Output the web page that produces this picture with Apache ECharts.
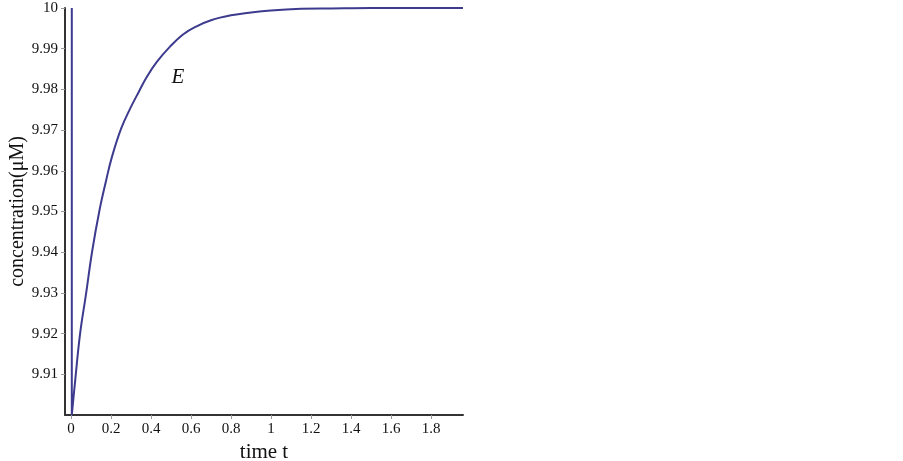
<!DOCTYPE html>
<html>
<head>
<meta charset="utf-8">
<script src="https://cdn.jsdelivr.net/npm/echarts@6/dist/echarts.min.js"></script>
<style>
    html, body { margin: 0; padding: 0; background: #fff; }
    #main { width: 903px; height: 461px; }
</style>
</head>
<body>
<div id="main"></div>
<script>
// values
var timeT = [0.004, 0.004, 0.02, 0.045, 0.075, 0.106, 0.142, 0.175, 0.204, 0.25, 0.295, 0.34, 0.378, 0.43, 0.495, 0.56, 0.628, 0.7, 0.8, 0.9, 1.0, 1.15, 1.3, 1.5, 1.7, 1.96];
var concE = [10, 9.9, 9.908, 9.9198, 9.9297, 9.9403, 9.9502, 9.9575, 9.9633, 9.9703, 9.9752, 9.9795, 9.983, 9.9868, 9.9905, 9.9935, 9.9955, 9.997, 9.9982, 9.9989, 9.9994, 9.9998, 9.9999, 10, 10, 10];
var xTicks = [0, 0.2, 0.4, 0.6, 0.8, 1, 1.2, 1.4, 1.6, 1.8];
var yTicks = [9.91, 9.92, 9.93, 9.94, 9.95, 9.96, 9.97, 9.98, 9.99, 10];

;(function(){
    var serif = '"Liberation Serif", "DejaVu Serif", serif';
    var points = timeT.map(function(t, i){ return [t, concE[i]]; });

    var option = {
        animation: false,
        grid: { left: 65, right: 440, top: 8, bottom: 46, outerBoundsMode: 'none', containLabel: false },
        xAxis: {
            type: 'value',
            min: -0.03,
            max: 1.96,
            name: 'time t',
            nameLocation: 'middle',
            nameGap: 25,
            nameTextStyle: { fontFamily: serif, fontSize: 21, color: '#111' },
            axisLine: { onZero: false, lineStyle: { color: '#333', width: 2 } },
            axisTick: { show: true, length: 4, customValues: xTicks, lineStyle: { color: '#999' } },
            axisLabel: {
                customValues: xTicks,
                fontFamily: serif, fontSize: 15, color: '#111', margin: 7,
                formatter: function(v){ return String(Math.round(v * 10) / 10); }
            },
            splitLine: { show: false }
        },
        yAxis: {
            type: 'value',
            min: 9.9,
            max: 10,
            name: 'concentration(μM)',
            nameLocation: 'middle',
            nameGap: 31,
            nameTextStyle: { fontFamily: serif, fontSize: 20, color: '#111' },
            axisLine: { show: true, onZero: false, lineStyle: { color: '#333', width: 2 } },
            axisTick: { show: true, length: 4, customValues: yTicks, lineStyle: { color: '#999' } },
            axisLabel: {
                customValues: yTicks,
                fontFamily: serif, fontSize: 15, color: '#111', margin: 7,
                formatter: function(v){ return String(Math.round(v * 100) / 100); }
            },
            splitLine: { show: false }
        },
        series: [
            {
                name: 'E',
                type: 'line',
                data: points,
                smooth: 0.4,
                symbol: 'none',
                lineStyle: { color: '#3d3b8e', width: 2 },
                markPoint: {
                    symbol: 'circle',
                    symbolSize: 0,
                    data: [{ coord: [0.535, 9.983] }],
                    label: {
                        show: true,
                        formatter: 'E',
                        fontFamily: serif,
                        fontStyle: 'italic',
                        fontSize: 21,
                        color: '#111'
                    }
                }
            }
        ]
    };

    echarts.init(document.getElementById('main')).setOption(option);
})();
</script>
</body>
</html>
